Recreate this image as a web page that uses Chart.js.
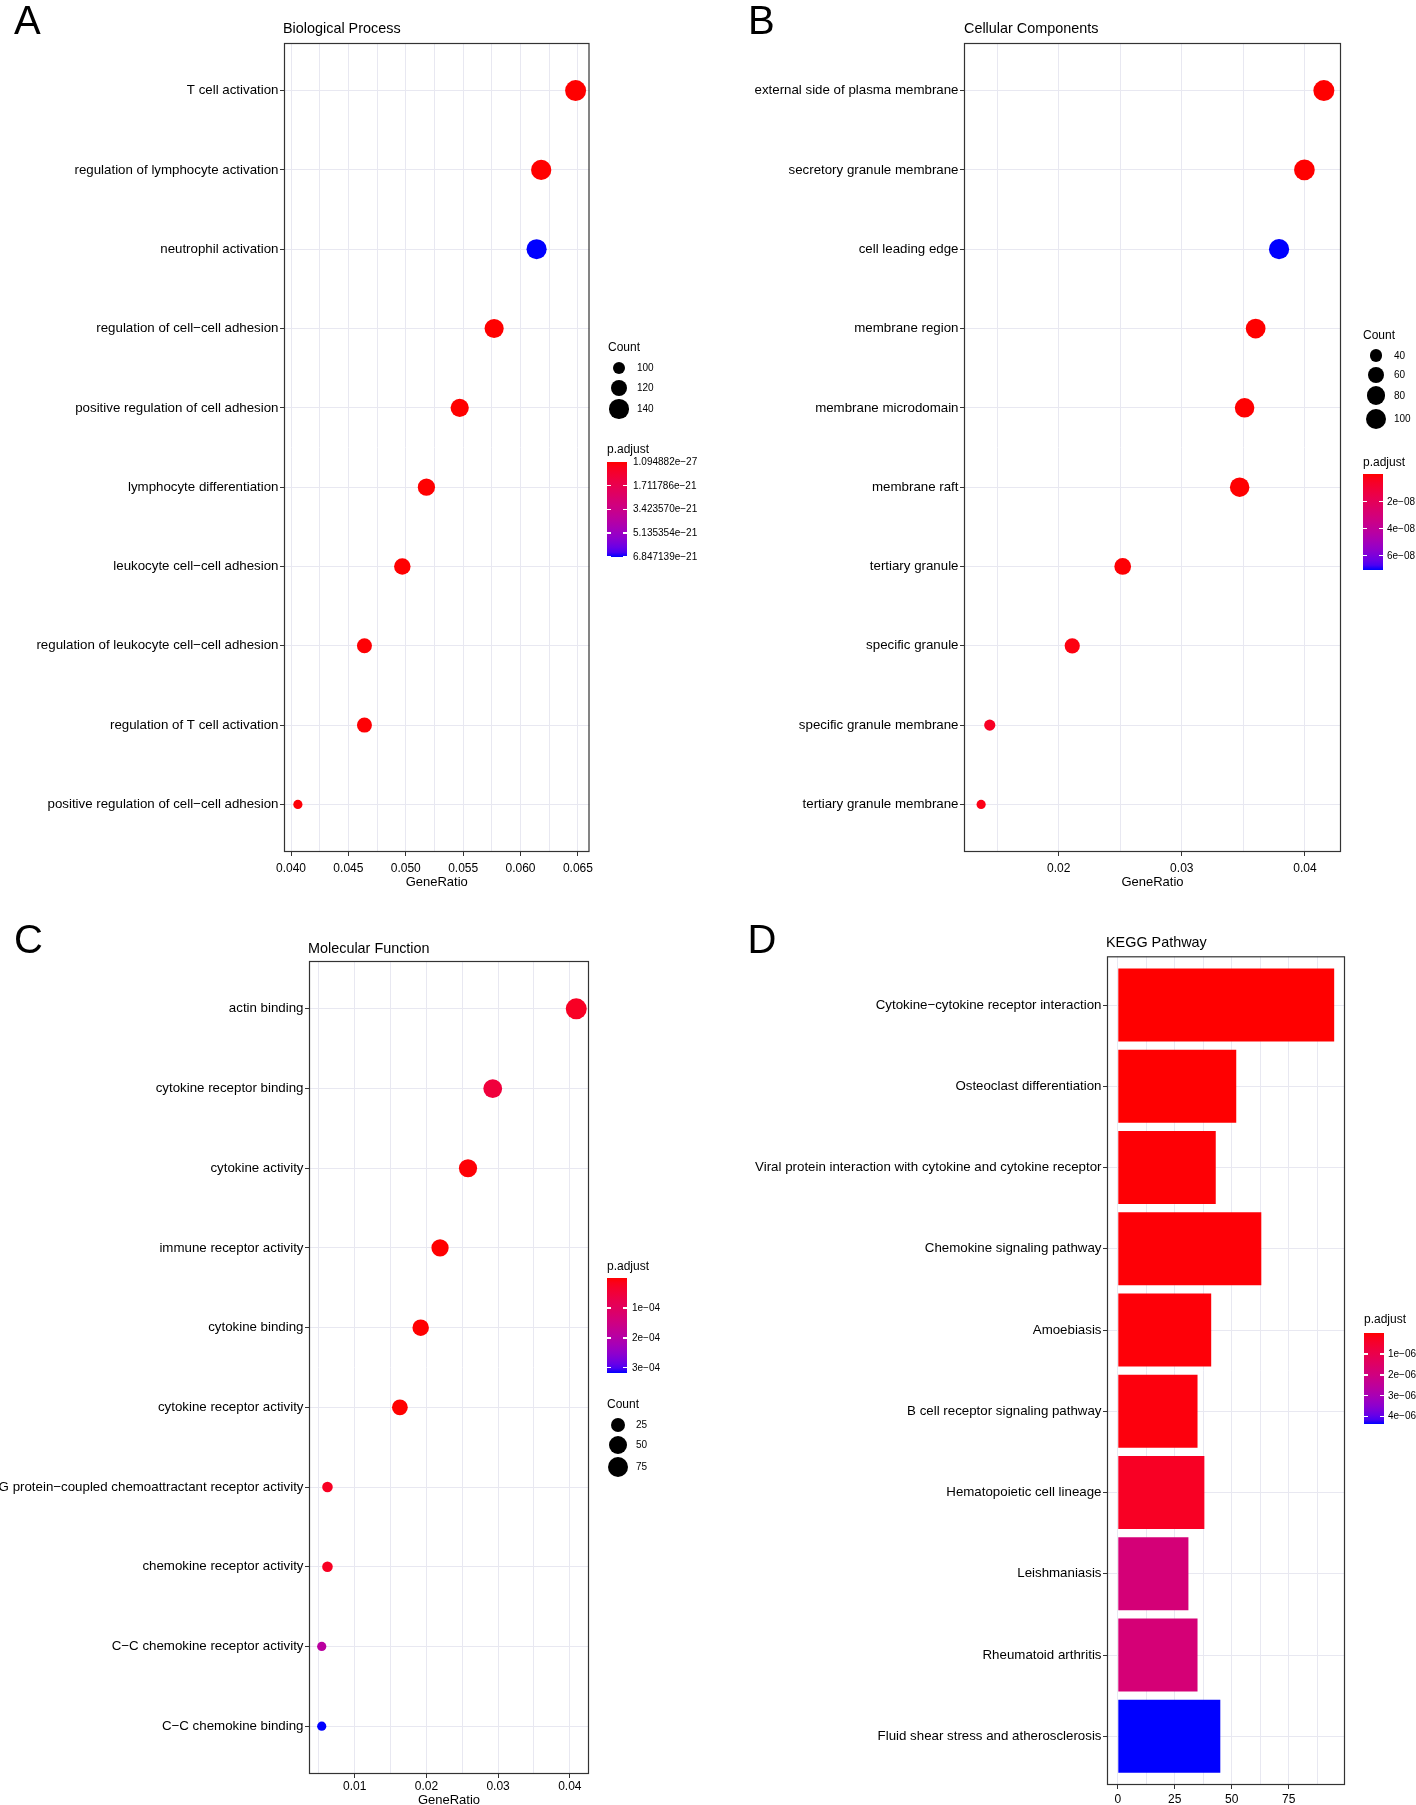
<!DOCTYPE html>
<html>
<head>
<meta charset="utf-8">
<script src="https://cdn.jsdelivr.net/npm/chart.js"></script>
<style>
  body { margin: 0; width: 1416px; height: 1805px; position: relative; overflow: hidden; background: #fff;
         font-family: "Liberation Sans", Arial, Helvetica, sans-serif; color: #000; }
  canvas { position: absolute; }
  .t { position: absolute; line-height: 1; white-space: nowrap; }
</style>
</head>
<body>
<canvas id="bp" width="600" height="905" style="left:0;top:0"></canvas>
<canvas id="cc" width="796" height="905" style="left:620px;top:0"></canvas>
<canvas id="mf" width="600" height="905" style="left:0;top:905px"></canvas>
<canvas id="kegg" width="796" height="905" style="left:620px;top:905px"></canvas>
<script>
// A - Biological Process
const bpTerms = ['T cell activation', 'regulation of lymphocyte activation', 'neutrophil activation',
  'regulation of cell−cell adhesion', 'positive regulation of cell adhesion', 'lymphocyte differentiation',
  'leukocyte cell−cell adhesion', 'regulation of leukocyte cell−cell adhesion', 'regulation of T cell activation',
  'positive regulation of cell−cell adhesion'];
const bpRatio = [0.0648, 0.0618, 0.0614, 0.0577, 0.0547, 0.0518, 0.0497, 0.0464, 0.0464, 0.0406];
const bpCount = [154, 147, 146, 137, 130, 123, 118, 110, 110, 96];
const bpPadj = [1.094882e-27, 3.2e-26, 6.847139e-21, 5.1e-25, 2.3e-24, 8.8e-24, 1.4e-23, 4.6e-23, 4.6e-23, 7.3e-23];
const bpXTicks = [0.040, 0.045, 0.050, 0.055, 0.060, 0.065];
const bpSizeBreaks = [100, 120, 140];
const bpColorBreaks = [1.094882e-27, 1.711786e-21, 3.423570e-21, 5.135354e-21, 6.847139e-21];

// B - Cellular Components
const ccTerms = ['external side of plasma membrane', 'secretory granule membrane', 'cell leading edge',
  'membrane region', 'membrane microdomain', 'membrane raft', 'tertiary granule', 'specific granule',
  'specific granule membrane', 'tertiary granule membrane'];
const ccRatio = [0.04154, 0.03996, 0.0379, 0.0360, 0.0351, 0.0347, 0.0252, 0.0211, 0.0144, 0.0137];
const ccCount = [103, 99, 94, 89, 87, 86, 62, 52, 36, 34];
const ccPadj = [3.1e-13, 8.6e-12, 7.05e-08, 2.2e-11, 5.4e-11, 6.1e-11, 4.7e-10, 1.9e-09, 5.6e-09, 2.8e-09];
const ccXTicks = [0.02, 0.03, 0.04];
const ccSizeBreaks = [40, 60, 80, 100];
const ccColorBreaks = [2e-08, 4e-08, 6e-08];

// C - Molecular Function
const mfTerms = ['actin binding', 'cytokine receptor binding', 'cytokine activity', 'immune receptor activity',
  'cytokine binding', 'cytokine receptor activity', 'G protein−coupled chemoattractant receptor activity',
  'chemokine receptor activity', 'C−C chemokine receptor activity', 'C−C chemokine binding'];
const mfRatio = [0.0409, 0.02925, 0.0258, 0.0219, 0.0192, 0.0163, 0.0062, 0.0062, 0.0054, 0.0054];
const mfCount = [82, 58, 52, 44, 38, 33, 12, 12, 11, 11];
const mfPadj = [2.6e-05, 5.4e-05, 3.0e-06, 1.2e-06, 8.0e-07, 5.0e-07, 2.5e-05, 2.5e-05, 1.9e-04, 3.17e-04];
const mfXTicks = [0.01, 0.02, 0.03, 0.04];
const mfSizeBreaks = [25, 50, 75];
const mfColorBreaks = [1e-04, 2e-04, 3e-04];

// D - KEGG Pathway
const keggTerms = ['Cytokine−cytokine receptor interaction', 'Osteoclast differentiation',
  'Viral protein interaction with cytokine and cytokine receptor', 'Chemokine signaling pathway', 'Amoebiasis',
  'B cell receptor signaling pathway', 'Hematopoietic cell lineage', 'Leishmaniasis', 'Rheumatoid arthritis',
  'Fluid shear stress and atherosclerosis'];
const keggCount = [95, 52, 43, 63, 41, 35, 38, 31, 35, 45];
const keggPadj = [2.1e-17, 6.4e-09, 3.3e-08, 4.0e-08, 5.2e-08, 9.0e-08, 3.5e-07, 1.85e-06, 1.83e-06, 4.37e-06];
const keggXTicks = [0, 25, 50, 75];
const keggColorBreaks = [1e-06, 2e-06, 3e-06, 4e-06];

const GRID = '#E8E8F1';
const LABEL_SIZE = 13.3;
Chart.defaults.font.family = '"Liberation Sans", Arial, Helvetica, sans-serif';
Chart.defaults.color = '#000';

// red -> blue through CIELAB, like ggplot's continuous colour scale
const LAB_LOW = [53.24, 80.09, 67.20], LAB_HIGH = [32.30, 79.19, -107.86];
function labToHex(L, a, b) {
  const fy = (L + 16) / 116, fx = fy + a / 500, fz = fy - b / 200;
  const inv = t => t > 0.206893 ? t * t * t : (t - 16 / 116) / 7.787;
  const X = 0.95047 * inv(fx), Y = inv(fy), Z = 1.08883 * inv(fz);
  const lin = [3.2406 * X - 1.5372 * Y - 0.4986 * Z, -0.9689 * X + 1.8758 * Y + 0.0415 * Z, 0.0557 * X - 0.2040 * Y + 1.0570 * Z];
  return '#' + lin.map(c => {
    c = Math.min(1, Math.max(0, c));
    c = c <= 0.0031308 ? 12.92 * c : 1.055 * Math.pow(c, 1 / 2.4) - 0.055;
    return Math.round(c * 255).toString(16).padStart(2, '0');
  }).join('');
}
function padjColor(p, lo, hi) {
  const t = (p - lo) / (hi - lo);
  return labToHex(...LAB_LOW.map((v, i) => v + (LAB_HIGH[i] - v) * t));
}
// diameter in px, area-like scaling between the smallest and largest count
function dotSize(c, lo, hi) { return 9.2 + 11.8 * Math.sqrt((c - lo) / (hi - lo)); }
function sci(v, d) {
  const [m, e] = v.toExponential(d).split('e');
  return m + 'e' + (+e < 0 ? '−' : '+') + String(Math.abs(+e)).padStart(2, '0');
}

const panelBorder = {
  id: 'panelBorder',
  afterDraw(chart) {
    const { ctx, chartArea: a } = chart;
    ctx.save();
    ctx.strokeStyle = '#333';
    ctx.lineWidth = 1.2;
    ctx.strokeRect(a.left + 0.5, a.top + 0.5, a.right - a.left - 1, a.bottom - a.top - 1);
    ctx.restore();
  }
};

function axisX(ticks, lo, hi, digits, height, title, titlePad, tickPad) {
  const step = ticks[1] - ticks[0];
  const all = [];
  for (let v = ticks[0] - step / 2; v <= hi; v += step / 2) if (v >= lo) all.push(v);
  const isMajor = v => ticks.some(t => Math.abs(t - v) < step * 1e-3);
  return {
    type: 'linear', min: lo, max: hi, offset: false,
    afterBuildTicks: s => { s.ticks = all.map(v => ({ value: v })); },
    afterFit: s => { s.height = height; },
    ticks: { autoSkip: false, maxRotation: 0, padding: tickPad, font: { size: 12 },
      callback: v => isMajor(v) ? v.toFixed(digits) : '' },
    grid: { color: GRID, lineWidth: 1, tickLength: 4, offset: false,
      tickColor: c => (c.tick && isMajor(c.tick.value)) ? '#333' : 'rgba(0,0,0,0)' },
    border: { display: false },
    title: title ? { display: true, text: title, font: { size: 13 }, padding: { top: 0, bottom: titlePad } } : { display: false }
  };
}
function axisY(labels, width) {
  return {
    type: 'linear', reverse: true, min: -0.6, max: labels.length - 0.4, offset: false,
    afterBuildTicks: s => { s.ticks = labels.map((_, i) => ({ value: i })); },
    afterFit: s => { s.width = width; },
    ticks: { autoSkip: false, padding: 1.5, font: { size: LABEL_SIZE }, callback: v => labels[v] },
    grid: { color: GRID, lineWidth: 1, tickLength: 4, tickColor: '#333', offset: false },
    border: { display: false }
  };
}
function baseOptions(pad) {
  return {
    responsive: false, animation: false, events: [],
    layout: { padding: pad },
    plugins: { legend: { display: false }, tooltip: { enabled: false } }
  };
}
function ratioRange(r) {
  const lo = Math.min(...r), hi = Math.max(...r), e = (hi - lo) * 0.05;
  return [lo - e, hi + e];
}

function dotChart(id, terms, ratio, count, padj, xTicks, digits, L) {
  const clo = Math.min(...count), chi = Math.max(...count);
  const plo = Math.min(...padj), phi = Math.max(...padj);
  const [xlo, xhi] = ratioRange(ratio);
  const opts = baseOptions({ left: 0, top: L.top, right: L.right, bottom: 0 });
  opts.scales = { x: axisX(xTicks, xlo, xhi, digits, L.xh, 'GeneRatio', L.tpad, L.kpad), y: axisY(terms, L.yw) };
  new Chart(document.getElementById(id), {
    type: 'scatter',
    data: { datasets: [{
      data: ratio.map((r, i) => ({ x: r, y: i })),
      pointRadius: count.map(c => dotSize(c, clo, chi) / 2),
      backgroundColor: padj.map(p => padjColor(p, plo, phi)),
      borderWidth: 0
    }] },
    options: opts,
    plugins: [panelBorder]
  });
}

dotChart('bp', bpTerms, bpRatio, bpCount, bpPadj, bpXTicks, 3, { top: 43, right: 10, xh: 53, yw: 284, tpad: 15, kpad: 5 });
dotChart('cc', ccTerms, ccRatio, ccCount, ccPadj, ccXTicks, 2, { top: 43, right: 75, xh: 53, yw: 344, tpad: 15, kpad: 5 });
dotChart('mf', mfTerms, mfRatio, mfCount, mfPadj, mfXTicks, 2, { top: 56, right: 11, xh: 36, yw: 309, tpad: 2, kpad: 1.5 });

(function () {
  const plo = Math.min(...keggPadj), phi = Math.max(...keggPadj);
  const xhi = Math.max(...keggCount);
  const opts = baseOptions({ left: 0, top: 51.3, right: 71, bottom: 0 });
  opts.indexAxis = 'y';
  opts.scales = { x: axisX(keggXTicks, -xhi * 0.05, xhi * 1.05, 0, 25, null, 0, 3), y: axisY(keggTerms, 487) };
  new Chart(document.getElementById('kegg'), {
    type: 'bar',
    data: { datasets: [{ data: keggCount.map((c, i) => ({ x: c, y: i })),
      backgroundColor: keggPadj.map(p => padjColor(p, plo, phi)),
      borderWidth: 0, categoryPercentage: 0.9, barPercentage: 1 }] },
    options: opts,
    plugins: [panelBorder]
  });
})();

// text and legends
function txt(str, x, base, size) {
  const d = document.createElement('div');
  d.className = 't';
  d.textContent = str;
  d.style.left = x + 'px';
  d.style.top = (base - 0.847 * size) + 'px';
  d.style.fontSize = size + 'px';
  document.body.appendChild(d);
  return d;
}
function box(x, y, w, h, bg, extra) {
  const d = document.createElement('div');
  d.style.cssText = `position:absolute;left:${x}px;top:${y}px;width:${w}px;height:${h}px;background:${bg};${extra || ''}`;
  document.body.appendChild(d);
  return d;
}
function colorbar(L, padj, breaks, fmt) {
  const lo = Math.min(...padj), hi = Math.max(...padj);
  txt('p.adjust', L.bx, L.titleBase, 12);
  const stops = [];
  for (let i = 0; i <= 20; i++) stops.push(padjColor(lo + (hi - lo) * i / 20, lo, hi) + ' ' + (i * 5) + '%');
  box(L.bx, L.top, 20, L.bottom - L.top, `linear-gradient(to bottom, ${stops.join(',')})`);
  breaks.forEach(v => {
    const y = L.top + (v - lo) / (hi - lo) * (L.bottom - L.top);
    box(L.bx, y - 0.75, 4, 1.5, '#fff');
    box(L.bx + 16, y - 0.75, 4, 1.5, '#fff');
    txt(fmt(v), L.lx, y + 3.6, 10);
  });
}
function sizeLegend(L, count, breaks) {
  const lo = Math.min(...count), hi = Math.max(...count);
  txt('Count', L.x, L.titleBase, 12);
  breaks.forEach((b, i) => {
    const d = dotSize(b, lo, hi), cy = L.cys[i];
    box(L.cx - d / 2, cy - d / 2, d, d, '#000', 'border-radius:50%');
    txt(String(b), L.lx, cy + 3.6, 10);
  });
}

txt('A', 14, 33.5, 40); txt('B', 748, 33.5, 40);
txt('C', 14, 953, 40); txt('D', 747.5, 953, 40);
txt('Biological Process', 283, 33.3, 14.4);
txt('Cellular Components', 964, 33.3, 14.4);
txt('Molecular Function', 308, 952.8, 14.4);
txt('KEGG Pathway', 1106, 947, 14.4);

sizeLegend({ x: 608, titleBase: 351, cx: 619, cys: [368, 388, 409], lx: 637 }, bpCount, bpSizeBreaks);
colorbar({ titleBase: 453.6, bx: 607, top: 461.7, bottom: 557, lx: 633 }, bpPadj, bpColorBreaks, v => sci(v, 6));

sizeLegend({ x: 1363, titleBase: 339, cx: 1376, cys: [355.7, 375, 395.7, 419], lx: 1394 }, ccCount, ccSizeBreaks);
colorbar({ titleBase: 466.3, bx: 1363, top: 474.3, bottom: 570, lx: 1387 }, ccPadj, ccColorBreaks, v => sci(v, 0));

colorbar({ titleBase: 1270.5, bx: 607, top: 1278.3, bottom: 1372.7, lx: 632 }, mfPadj, mfColorBreaks, v => sci(v, 0));
sizeLegend({ x: 607, titleBase: 1408, cx: 618, cys: [1425, 1445, 1467], lx: 636 }, mfCount, mfSizeBreaks);

colorbar({ titleBase: 1323.6, bx: 1364, top: 1333.3, bottom: 1424, lx: 1388 }, keggPadj, keggColorBreaks, v => sci(v, 0));
</script>
</body>
</html>
